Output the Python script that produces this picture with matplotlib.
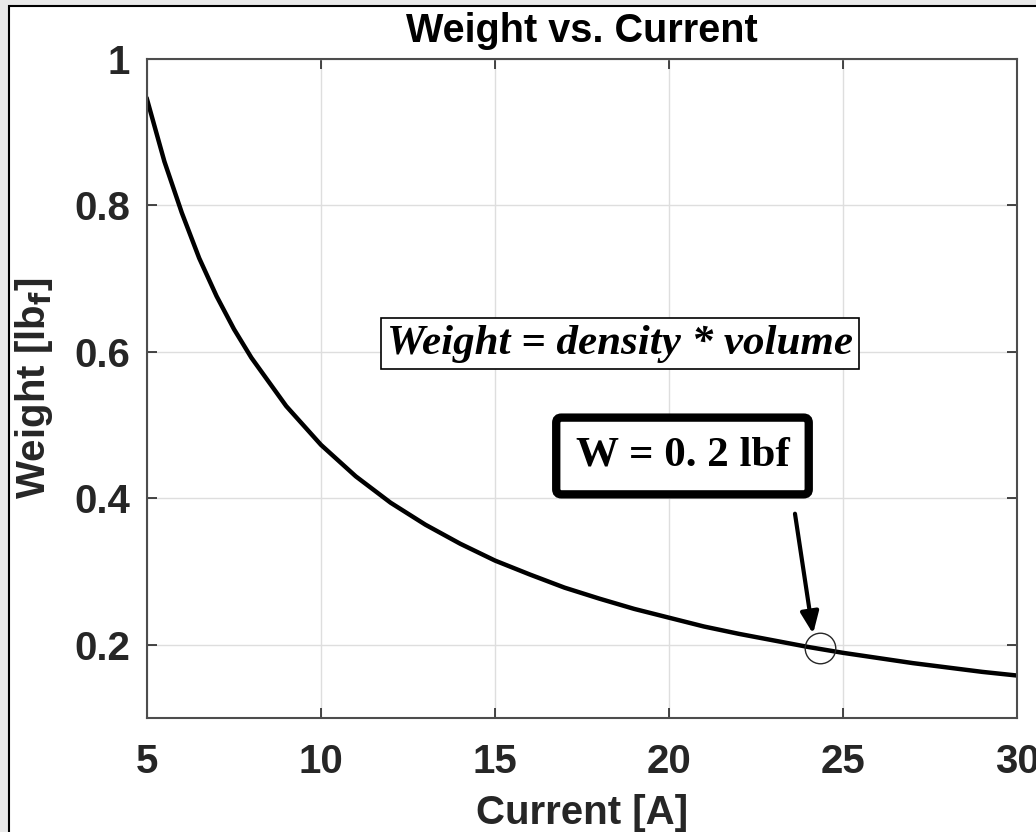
import numpy as np
import matplotlib
matplotlib.use("Agg")
from matplotlib import pyplot as plt
from matplotlib.patches import Rectangle

# values
current = [5, 5.5, 6, 6.5, 7, 7.5, 8, 9, 10, 11, 12, 13, 14, 15, 16, 17, 18,
           19, 20, 21, 22, 23, 24, 25, 26, 27, 28, 29, 30]
weight = [0.945, 0.860, 0.790, 0.728, 0.676, 0.631, 0.592, 0.526, 0.473,
          0.430, 0.394, 0.364, 0.338, 0.315, 0.296, 0.278, 0.263, 0.249,
          0.237, 0.225, 0.215, 0.206, 0.197, 0.189, 0.182, 0.175, 0.169,
          0.163, 0.158]

xticks = [5, 10, 15, 20, 25, 30]
yticks = [0.2, 0.4, 0.6, 0.8, 1]
ytick_labels = ['0.2', '0.4', '0.6', '0.8', '1']

point_x, point_y = 24.35, 0.195
arrow_from = (23.62, 0.379)
arrow_to = (24.14, 0.215)

plt.rcParams['font.family'] = 'Liberation Sans'
fig = plt.figure(figsize=(10.36, 8.32), dpi=100)
fig.patch.set_facecolor('#e9e9e9')
# white panel with dark border (screenshot frame)
fig.patches.append(Rectangle((9/1036, -0.05), 1.1, 1 - 6/832 + 0.05,
                             transform=fig.transFigure, facecolor='white',
                             edgecolor='black', linewidth=1.5, zorder=-5))

ax = fig.add_axes([147/1036, 1 - 718/832, (1017-147)/1036, (718-59)/832])
dark = '#262626'
ax.plot(current, weight, color='black', linewidth=3.2)
ax.plot(point_x, point_y, 'o', markersize=22, markerfacecolor='none',
        markeredgecolor=dark, markeredgewidth=1.0)

ax.set_xlim(5, 30)
ax.set_ylim(0.1, 1)
ax.set_xticks(xticks)
ax.set_yticks(yticks)
ax.set_yticklabels(ytick_labels)
ax.tick_params(direction='in', length=7, width=1.2, colors=dark,
               top=True, right=True, labelsize=29)
ax.tick_params(axis='x', pad=18)
ax.tick_params(axis='y', pad=12)
for lab in ax.get_xticklabels() + ax.get_yticklabels():
    lab.set_fontweight('bold')
for sp in ax.spines.values():
    sp.set_color('#4d4d4d')
    sp.set_linewidth(1.5)
ax.grid(True, color='#dedede', linewidth=1.0)
ax.set_axisbelow(True)

ax.set_title('Weight vs. Current', fontsize=28.5, fontweight='bold', pad=12)
ax.set_xlabel('Current [A]', fontsize=29, fontweight='bold', color=dark,
              labelpad=9)
ax.set_ylabel(r'Weight [lb$_\mathbf{f}$]', fontsize=29, fontweight='bold',
              color=dark, labelpad=14)

ax.text(0.5437, 0.568, 'Weight = density * volume', transform=ax.transAxes,
        fontsize=31, fontweight='bold', fontstyle='italic',
        family='Liberation Serif', va='center', ha='center',
        bbox=dict(boxstyle='square,pad=0.15', facecolor='white',
                  edgecolor='black', linewidth=1.2))
ax.text(0.6155, 0.3976, 'W = 0. 2 lbf', transform=ax.transAxes,
        fontsize=31, fontweight='bold', family='Liberation Serif',
        va='center', ha='center',
        bbox=dict(boxstyle='round,pad=0.45,rounding_size=0.12',
                  facecolor='white', edgecolor='black', linewidth=6))

ax.annotate('', xy=arrow_to, xytext=arrow_from,
            arrowprops=dict(arrowstyle='-|>,head_length=1.3,head_width=0.55',
                            color='black', linewidth=3, shrinkA=0, shrinkB=0))

fig.savefig('out.png', dpi=100, facecolor=fig.get_facecolor())
